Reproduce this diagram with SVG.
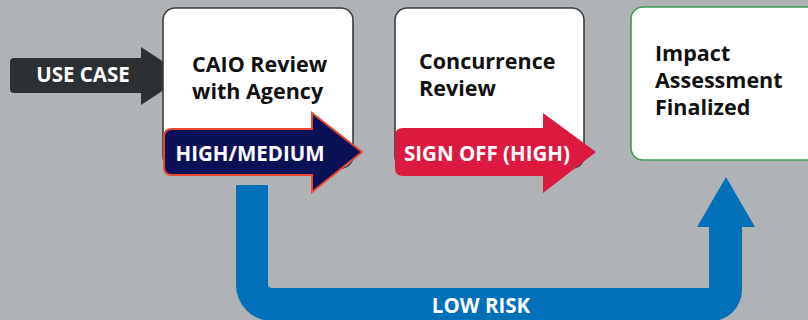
<svg xmlns="http://www.w3.org/2000/svg" width="808" height="320" viewBox="0 0 808 320">
  <style>
    .box { fill: #ffffff; stroke: #3a3b3d; stroke-width: 1.6; }
    .box.done { stroke: #3e9a4d; }
    .label { font-family: "Open Sans", "Liberation Sans", Arial, sans-serif; font-weight: 700; font-size: 21.5px; fill: #111111; }
    .tag { font-family: "Open Sans", "Liberation Sans", Arial, sans-serif; font-weight: 700; font-size: 20.5px; fill: #ffffff; }
  </style>
  <rect width="808" height="320" fill="#b0b3b6"/>

  <!-- low-risk bypass: U-shaped blue arrow (drawn first, under the boxes) -->
  <g id="connectors">
    <path id="low-risk" fill="#0070b8"
      d="M236,185 H268 V284 Q268,288 272,288 H709 V227 H697 L726,177 L755,227 H742 V290 A31,31 0 0 1 711,321 H272 A36,36 0 0 1 236,285 Z"/>
    <text class="tag" x="481" y="313" text-anchor="middle">LOW RISK</text>
  </g>

  <g id="use-case">
    <path fill="#2d3033" d="M14,58 H141 V47 L185,76 L141,105 V93 H14 Q10,93 10,89 V62 Q10,58 14,58 Z"/>
    <text class="tag" x="83" y="82" text-anchor="middle">USE CASE</text>
  </g>

  <g id="caio-review">
    <rect class="box" x="163" y="8" width="190" height="160" rx="12"/>
    <text class="label" x="192" y="72">CAIO Review</text>
    <text class="label" x="192" y="99">with Agency</text>
  </g>

  <g id="concurrence-review">
    <rect class="box" x="395" y="8" width="189" height="160" rx="12"/>
    <text class="label" x="419" y="69">Concurrence</text>
    <text class="label" x="419" y="96">Review</text>
  </g>

  <g id="impact-assessment">
    <rect class="box done" x="631" y="7" width="200" height="153" rx="12"/>
    <text class="label" x="655" y="61">Impact</text>
    <text class="label" x="655" y="88">Assessment</text>
    <text class="label" x="655" y="115">Finalized</text>
  </g>

  <g id="high-medium">
    <path fill="#0b1157" stroke="#e8472f" stroke-width="2" stroke-linejoin="miter"
      d="M172,129 H312 V113 L362,152 L312,192 V175 H172 Q164,175 164,167 V137 Q164,129 172,129 Z"/>
    <text class="tag" x="250" y="161" text-anchor="middle">HIGH/MEDIUM</text>
  </g>

  <g id="sign-off">
    <path fill="#dc1a40"
      d="M403,128 H543 V113 L596,152 L543,193 V176 H403 Q395,176 395,168 V136 Q395,128 403,128 Z"/>
    <text class="tag" x="487" y="161" text-anchor="middle">SIGN OFF (HIGH)</text>
  </g>
</svg>
